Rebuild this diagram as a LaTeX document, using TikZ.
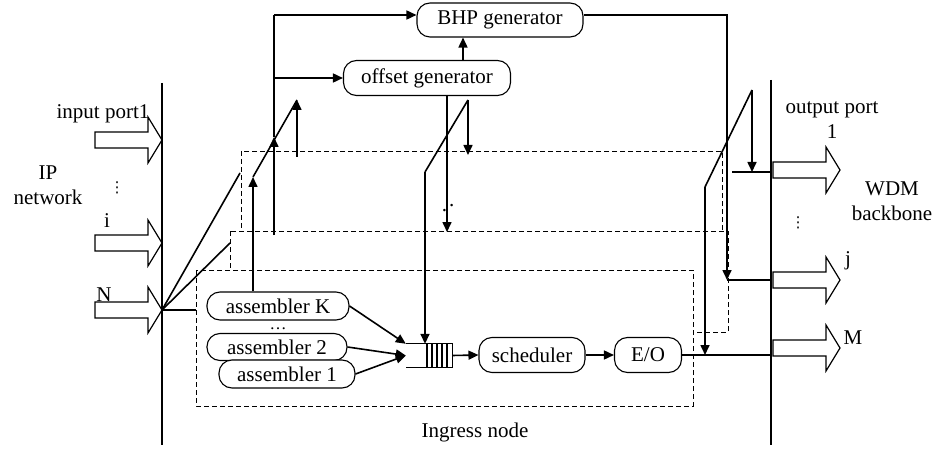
\documentclass[tikz,border=0pt]{standalone}
\usepackage{fontspec}
\setmainfont{Liberation Serif}
\newfontfamily\dotsfont{DejaVu Sans}
\usetikzlibrary{arrows.meta}
\newcommand{\portarrow}[1]
{   \draw[line width=1.2pt,fill=white] (#1) -- ++(-14,-23) -- ++(0,15) -- ++(-53,0) -- ++(0,16) -- ++(53,0) -- ++(0,15) -- cycle;
}
\begin{document}
\begin{tikzpicture}[x=1pt,y=-1pt,
    font=\fontsize{21}{25}\selectfont,
    block/.style={draw,line width=1.1pt,rounded corners=13pt,fill=white,minimum height=34pt,inner sep=0pt},
    plane/.style={draw,dash pattern=on 5pt off 3pt,line width=0.8pt,fill=white},
    vdotsnode/.style={font=\dotsfont\fontsize{15}{15}\selectfont,inner sep=0pt},
    wire/.style={line width=1.6pt},
    flow/.style={line width=1.6pt,-{Triangle[length=10pt,width=9pt]}},
    bar/.style={line width=1.8pt}]
          \useasboundingbox (0,0) rectangle (942,449);
          \draw[plane] (241,151) rectangle (722,290);
          \draw[plane] (230,231) rectangle (728,332);
          \draw[plane] (196,270) rectangle (693,406);
          \portarrow{162,140}
          \portarrow{162,243}
          \portarrow{162,310}
          \portarrow{840,170}
          \portarrow{840,280}
          \portarrow{840,348}
          \coordinate (inbartop) at (162,83);
          \coordinate (inbarbot) at (162,445);
          \coordinate (outbartop) at (771,80);
          \coordinate (outbarbot) at (771,445);
          \draw[bar] (inbartop) -- (inbarbot);
          \draw[bar] (outbartop) -- (outbarbot);
          \node[block,minimum width=166pt] (bhp) at (500,20) {BHP generator};
          \node[block,minimum width=167pt,minimum height=35pt] (offset) at (427,78) {offset generator};
          \node[block,minimum width=142pt,minimum height=28pt] (asmK) at (278,306) {assembler K};
          \node[font=\fontsize{17}{17}\selectfont,inner sep=0pt] (asmdots) at (278,329) {…};
          \node[block,minimum width=140pt,minimum height=27pt] (asm2) at (277,347) {assembler 2};
          \node[block,minimum width=136pt,minimum height=28pt] (asm1) at (287,374) {assembler 1};
          \node[minimum width=46pt,minimum height=23pt,inner sep=0pt] (queue) at (429,355.5) {};
          \draw[line width=1.1pt] (queue.north west) -- (queue.north east) -- (queue.south east) -- (queue.south west);
          \foreach \qx in {427,432,437,442,447}
            \draw[line width=1.1pt] (\qx,344) -- (\qx,367);
          \node[block,minimum width=106pt,minimum height=35pt] (sched) at (532,355) {scheduler};
          \node[block,minimum width=67pt,minimum height=35pt] (eo) at (648,355) {E/O};
          \node (inport) at (103,114) {input port1};
          \node[align=center] (ipnet) at (48,185) {IP\\network};
          \node[vdotsnode] (indots) at (117,188) {⋮};
          \node (lbli) at (107,221) {i};
          \node (lblN) at (104,295) {N};
          \node[align=center] (outport) at (832,120) {output port\\1};
          \node[align=center] (wdm) at (892,201) {WDM\\backbone};
          \node[vdotsnode] (outdots) at (798,223) {⋮};
          \node (lblj) at (848,261) {j};
          \node (lblM) at (853,338) {M};
          \node (ingress) at (475,432) {Ingress node};
          \node[inner sep=0pt] (middots) at (448,208) {.\kern2pt\raisebox{5pt}{.}};
          \coordinate (fan) at (162,310);
          \coordinate (frontin) at (196,310);
          \coordinate (midin) at (230,243);
          \coordinate (backin) at (240,173);
          \coordinate (kup) at (253,177);
          \coordinate (bup) at (297,100);
          \coordinate (bfoot) at (297,157);
          \coordinate (mfoot) at (274,235);
          \coordinate (mknee) at (274,137);
          \coordinate (mtop) at (274,15);
          \coordinate (mbranch) at (274,78);
          \coordinate (ob) at (463,60);
          \coordinate (mdown) at (447,232);
          \coordinate (qdiag) at (425,172);
          \coordinate (oup) at (468,100);
          \coordinate (odown) at (468,155);
          \coordinate (bhpknee) at (727,15);
          \coordinate (rj) at (727,280);
          \coordinate (rdiag) at (705,187);
          \coordinate (rup) at (752,90);
          \coordinate (rone) at (752,172);
          \coordinate (ronestart) at (732,172);
          \draw[wire] (fan) -- (frontin);
          \draw[wire] (fan) -- (midin);
          \draw[wire] (fan) -- (backin);
          \draw[flow] (asmK.north -| kup) -- (kup);
          \draw[wire] (kup) -- (bup);
          \draw[flow] (bfoot) -- (bup);
          \draw[flow] (mfoot) -- (mknee);
          \draw[wire] (mknee) -- (mtop);
          \draw[flow] (mtop) -- (mtop -| bhp.west);
          \draw[flow] (mbranch) -- (offset.west);
          \draw[flow] (ob) -- (ob |- bhp.south);
          \draw[flow] (offset.south -| mdown) -- (mdown);
          \draw[wire] (qdiag) -- (oup);
          \draw[flow] (oup) -- (odown);
          \draw[flow] (qdiag) -- (queue.north -| qdiag);
          \draw[flow] (asmK.east) -- (queue.north west);
          \draw[flow] (asm2.east) -- (queue.west);
          \draw[flow] (asm1.east) -- (queue.west);
          \draw[flow] (queue.east) -- (sched.west);
          \draw[flow] (sched.east) -- (eo.west);
          \draw[wire] (eo.east) -- (eo.east -| outbartop);
          \draw[flow] (bhpknee -| bhp.east) -- (bhpknee) -- (rj);
          \draw[wire] (rj) -- (rj -| outbartop);
          \draw[wire] (rdiag) -- (rup);
          \draw[flow] (rup) -- (rone);
          \draw[wire] (ronestart) -- (ronestart -| outbartop);
          \draw[flow] (rdiag) -- (rdiag |- eo.east);
        \end{tikzpicture}
\end{document}
